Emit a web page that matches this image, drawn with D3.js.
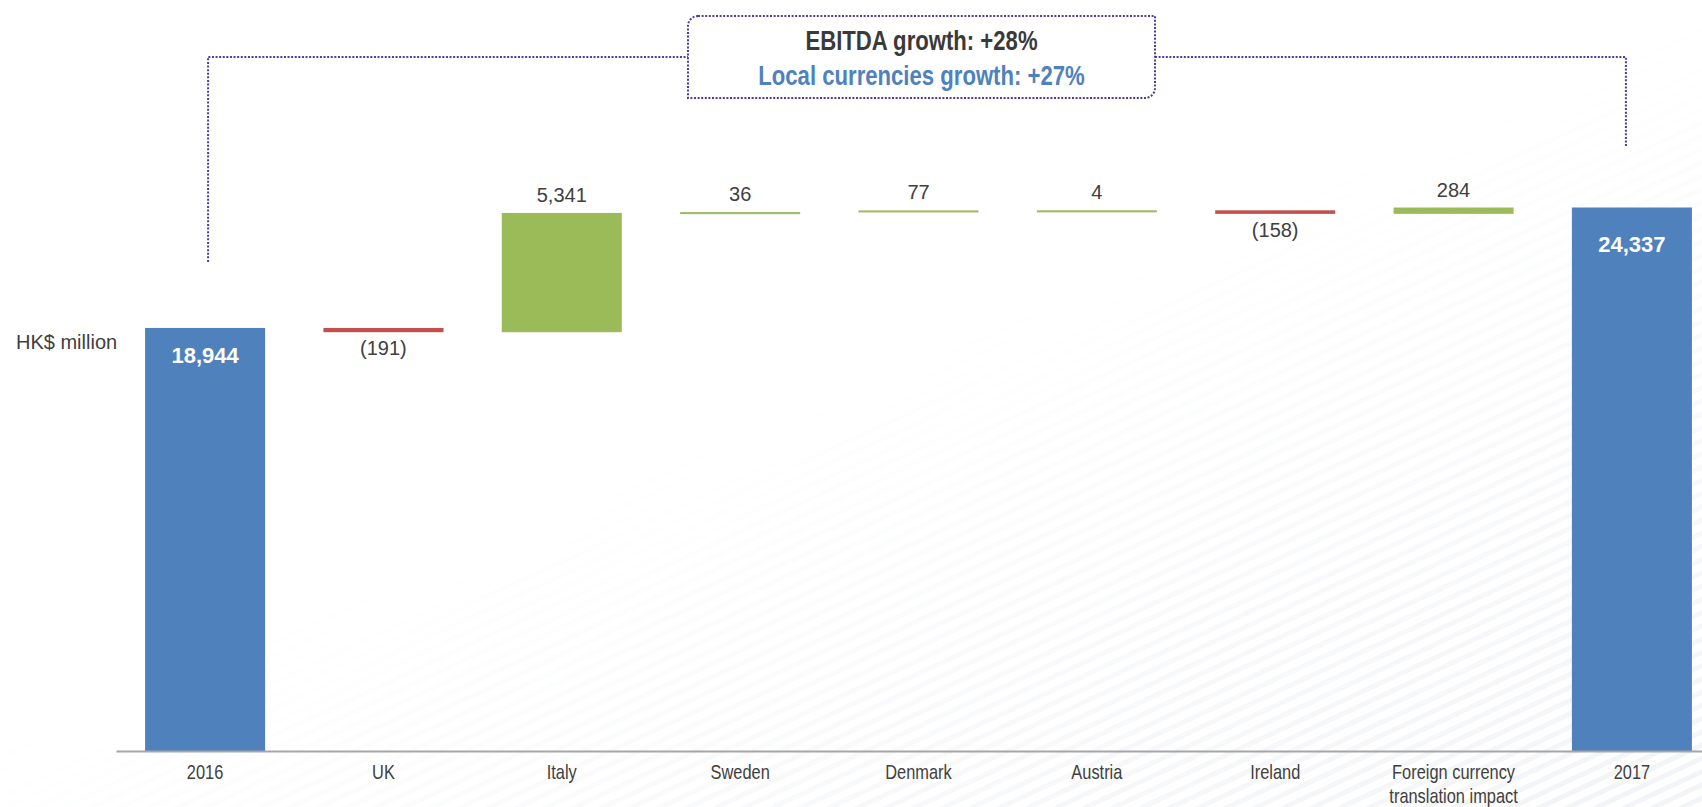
<!DOCTYPE html>
<html>
<head>
<meta charset="utf-8">
<script src="https://cdn.jsdelivr.net/npm/d3@7"></script>
<style>
  body { margin: 0; background: #fff; }
  svg { display: block; font-family: "Liberation Sans", Arial, sans-serif; }
  .axis text { font-family: "Liberation Sans", Arial, sans-serif; font-size: 20px; fill: #404040; }
  .axis path { stroke: #a6a6a6; stroke-width: 2; }
</style>
</head>
<body>
<svg width="1702" height="807"></svg>
<script>
var categories = ["2016", "UK", "Italy", "Sweden", "Denmark", "Austria", "Ireland", "Foreign currency translation impact", "2017"];
var tickLabels = [["2016"], ["UK"], ["Italy"], ["Sweden"], ["Denmark"], ["Austria"], ["Ireland"], ["Foreign currency", "translation impact"], ["2017"]];
var values = [18944, -191, 5341, 36, 77, 4, -158, 284, 24337];
var kinds = ["total", "delta", "delta", "delta", "delta", "delta", "delta", "delta", "total"];
var valueLabels = ["18,944", "(191)", "5,341", "36", "77", "4", "(158)", "284", "24,337"];
var growthLines = ["EBITDA growth: +28%", "Local currencies growth: +27%"];
var unitLabel = "HK$ million";

var svg = d3.select("svg");
var width = 1702, height = 807;
var baseY = 751;
var narrow = 0.82; // squeeze factor to fake a condensed face

// running totals -> start / end of every step
var running = 0;
var steps = categories.map(function(c, i) {
  var s, e;
  if (kinds[i] === "total") { s = 0; e = values[i]; running = values[i]; }
  else { s = running; e = running + values[i]; running = e; }
  return { cat: c, kind: kinds[i], value: values[i], start: s, end: e, label: valueLabels[i], ticks: tickLabels[i] };
});

var x = d3.scaleBand()
  .domain(categories)
  .range([116, 1721])
  .paddingInner(0.327)
  .paddingOuter(0.163);

var y = d3.scaleLinear()
  .domain([0, d3.max(steps, function(d) { return Math.max(d.start, d.end); })])
  .range([baseY, 207.5]);

var colors = { total: "#4f81bd", up: "#9bbb59", down: "#c0504d" };

// faint diagonal stripes in the lower right of the background
var defs = svg.append("defs");
var pat = defs.append("pattern")
  .attr("id", "stripes")
  .attr("patternUnits", "userSpaceOnUse")
  .attr("width", 12).attr("height", 12)
  .attr("patternTransform", "rotate(-25)");
pat.append("rect").attr("width", 12).attr("height", 5).attr("fill", "#eceef2");
var grad = defs.append("linearGradient")
  .attr("id", "fade").attr("x1", "0.45").attr("y1", "0.5").attr("x2", "0.9").attr("y2", "1");
grad.append("stop").attr("offset", "0").attr("stop-color", "#fff").attr("stop-opacity", 0);
grad.append("stop").attr("offset", "1").attr("stop-color", "#fff").attr("stop-opacity", 1);
defs.append("mask").attr("id", "fadeMask")
  .append("rect").attr("width", width).attr("height", height).attr("fill", "url(#fade)");
svg.append("rect")
  .attr("width", width).attr("height", height)
  .attr("fill", "url(#stripes)")
  .attr("mask", "url(#fadeMask)")
  .attr("opacity", 0.6);

// bars
svg.selectAll(".bar")
  .data(steps)
  .enter().append("rect")
  .attr("class", "bar")
  .attr("x", function(d) { return x(d.cat); })
  .attr("width", x.bandwidth())
  .attr("y", function(d) { return y(Math.max(d.start, d.end)); })
  .attr("height", function(d) { return Math.max(2, Math.abs(y(d.start) - y(d.end))); })
  .attr("fill", function(d) {
    if (d.kind === "total") return colors.total;
    return d.value < 0 ? colors.down : colors.up;
  });

// value labels
svg.selectAll(".vlabel")
  .data(steps)
  .enter().append("text")
  .attr("class", "vlabel")
  .attr("x", function(d) { return x(d.cat) + x.bandwidth() / 2; })
  .attr("y", function(d) {
    var top = y(Math.max(d.start, d.end)), bottom = y(Math.min(d.start, d.end));
    if (d.kind === "total") return top + (bottom - top) * 0.082;
    if (d.value < 0) return bottom + 23;
    return top - 11;
  })
  .attr("text-anchor", "middle")
  .style("font-size", function(d) { return d.kind === "total" ? "22px" : "20px"; })
  .style("font-weight", function(d) { return d.kind === "total" ? "bold" : "normal"; })
  .attr("fill", function(d) { return d.kind === "total" ? "#fff" : "#404040"; })
  .text(function(d) { return d.label; });

// x axis
var axis = svg.append("g")
  .attr("class", "axis")
  .attr("transform", "translate(0," + baseY + ")")
  .call(d3.axisBottom(x).tickSize(0).tickSizeOuter(0).tickPadding(14));
axis.selectAll(".tick text").each(function(c) {
  var t = d3.select(this);
  var lines = steps[categories.indexOf(c)].ticks;
  t.text(null).attr("transform", "scale(" + narrow + ",1)");
  lines.forEach(function(l, i) {
    t.append("tspan").attr("x", 0).attr("dy", i === 0 ? "0.71em" : "1.18em").text(l);
  });
});

// unit label
svg.append("text")
  .attr("x", 16).attr("y", 349)
  .style("font-size", "20px")
  .attr("fill", "#404040")
  .text(unitLabel);

// growth bracket + callout box
var box = { x0: 688, x1: 1155, y0: 16, y1: 98, r: 10 };
var midY = (box.y0 + box.y1) / 2;
var dotted = { stroke: "#4a3f9b", width: 2, dash: "2 1.6" };
var leftX = x(categories[0]) + x.bandwidth() / 2 + 3;
var rightX = x(categories[categories.length - 1]) + x.bandwidth() / 2 - 6;
var leftEnd = y(steps[0].end) - 66;
var rightEnd = y(steps[steps.length - 1].end) - 60;

var bracket = svg.append("g")
  .attr("fill", "none")
  .attr("stroke", dotted.stroke)
  .attr("stroke-width", dotted.width)
  .attr("stroke-dasharray", dotted.dash);
bracket.append("path")
  .attr("d", "M" + leftX + "," + leftEnd + "V" + midY + "H" + box.x0);
bracket.append("path")
  .attr("d", "M" + box.x1 + "," + midY + "H" + rightX + "V" + rightEnd);
bracket.append("path")
  .attr("fill", "#fff")
  .attr("d", "M" + (box.x0 + box.r) + "," + box.y0 +
    "H" + box.x1 + "V" + (box.y1 - box.r) +
    "A" + box.r + "," + box.r + " 0 0 1 " + (box.x1 - box.r) + "," + box.y1 +
    "H" + box.x0 + "V" + (box.y0 + box.r) +
    "A" + box.r + "," + box.r + " 0 0 1 " + (box.x0 + box.r) + "," + box.y0 + "Z");

svg.selectAll(".growth")
  .data(growthLines)
  .enter().append("text")
  .attr("class", "growth")
  .attr("transform", function(d, i) {
    return "translate(" + ((box.x0 + box.x1) / 2) + "," + (i === 0 ? 50 : 85) + ") scale(" + narrow + ",1)";
  })
  .attr("text-anchor", "middle")
  .style("font-size", "27px")
  .style("font-weight", "bold")
  .attr("fill", function(d, i) { return i === 0 ? "#3a3a3a" : "#4f81bd"; })
  .text(function(d) { return d; });
</script>
</body>
</html>
